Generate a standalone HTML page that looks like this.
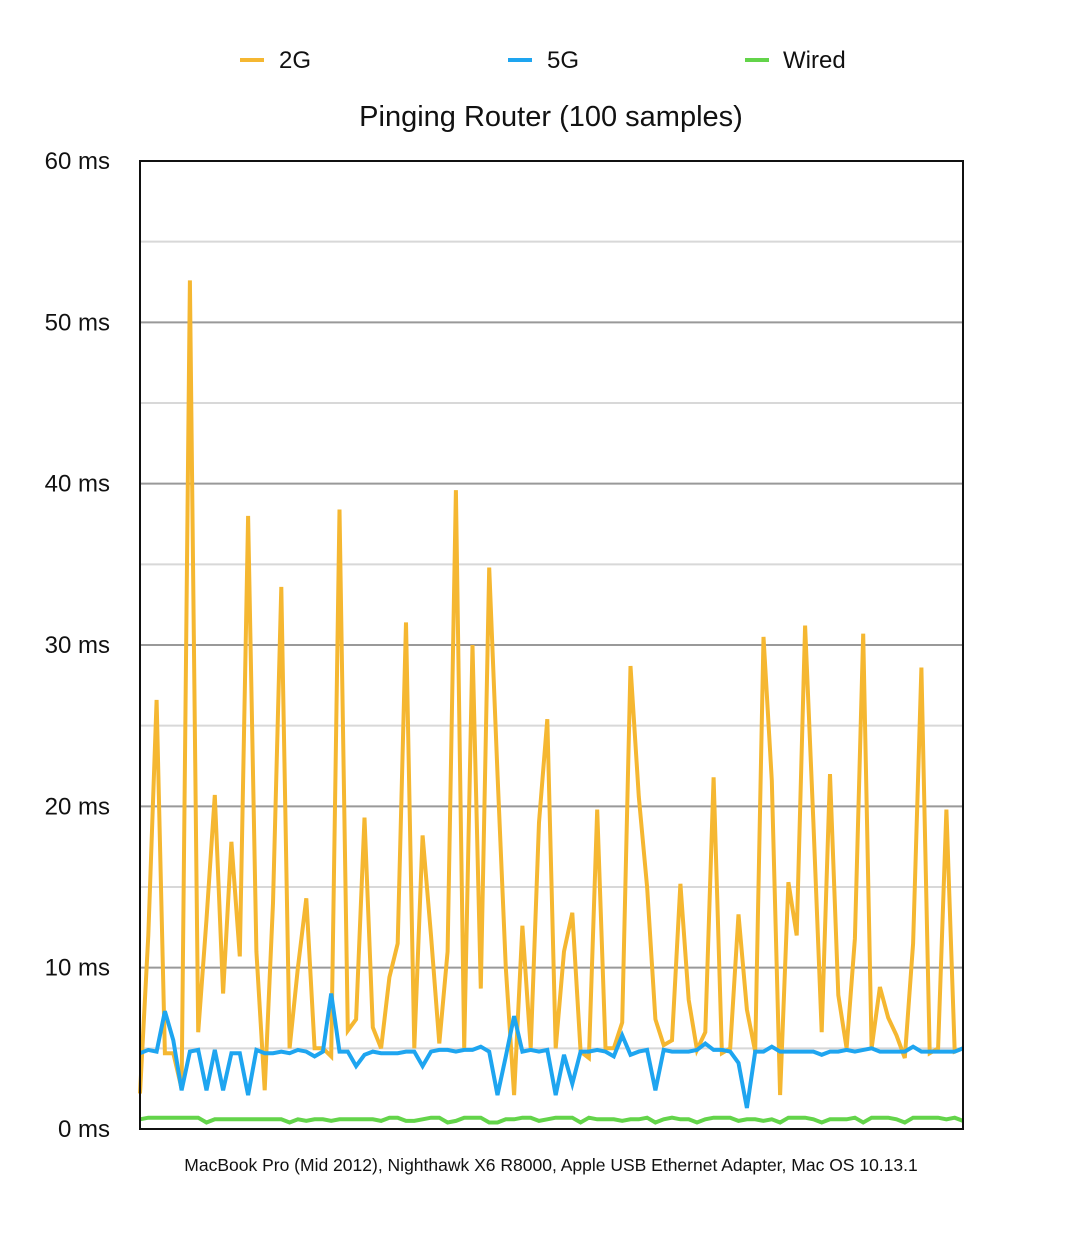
<!DOCTYPE html>
<html><head><meta charset="utf-8"><style>
body{margin:0;background:#fff;}
svg{display:block;font-family:"Liberation Sans",sans-serif;}
</style></head><body>
<svg id="chart" width="1076" height="1248" viewBox="0 0 1076 1248">
<g>
 <g><line x1="240" y1="60" x2="264" y2="60" stroke="#F5B731" stroke-width="4"/><text x="279" y="68" font-size="24" fill="#111">2G</text></g>
 <g><line x1="508" y1="60" x2="532" y2="60" stroke="#1EA5F0" stroke-width="4"/><text x="547" y="68" font-size="24" fill="#111">5G</text></g>
 <g><line x1="745" y1="60" x2="769" y2="60" stroke="#63D44A" stroke-width="4"/><text x="783" y="68" font-size="24" fill="#111">Wired</text></g>
</g>
<text x="551" y="126" font-size="29" text-anchor="middle" fill="#111">Pinging Router (100 samples)</text>
<g id="grid"></g>
<g id="ylabels"></g>
<g id="series"></g>
<rect x="140" y="161" width="823" height="968" fill="none" stroke="#111" stroke-width="2"/>
<text x="551" y="1171" font-size="17.5" text-anchor="middle" fill="#111">MacBook Pro (Mid 2012), Nighthawk X6 R8000, Apple USB Ethernet Adapter, Mac OS 10.13.1</text>
</svg>
<script>
const yTicks=[0,10,20,30,40,50,60];
const yTickLabels=["0 ms","10 ms","20 ms","30 ms","40 ms","50 ms","60 ms"];
const minorTicks=[5,15,25,35,45,55];
const series2G=[2.2,12,26.6,4.7,4.7,2.5,52.6,6.0,13,20.7,8.4,17.8,10.7,38,11,2.4,14,33.6,5,10,14.3,5,5,4.5,38.4,6.1,6.8,19.3,6.3,5,9.4,11.5,31.4,5,18.2,12,5.3,11,39.6,5,30,8.7,34.8,22,10,2.1,12.6,5,19,25.4,5,11,13.4,4.8,4.4,19.8,5,5,6.6,28.7,20.6,15,6.8,5.2,5.5,15.2,8,4.9,6,21.8,4.7,5,13.3,7.4,4.8,30.5,21.6,2.1,15.3,12,31.2,19,6,22,8.3,5,11.8,30.7,5,8.8,6.9,5.8,4.4,11.5,28.6,4.7,5,19.8,4.8,5];
const series5G=[4.7,4.9,4.8,7.3,5.5,2.4,4.8,4.9,2.4,4.9,2.4,4.7,4.7,2.1,4.9,4.7,4.7,4.8,4.7,4.9,4.8,4.5,4.8,8.4,4.8,4.8,3.9,4.6,4.8,4.7,4.7,4.7,4.8,4.8,3.9,4.8,4.9,4.9,4.8,4.9,4.9,5.1,4.8,2.1,4.5,7.0,4.8,4.9,4.8,4.9,2.1,4.6,2.8,4.8,4.8,4.9,4.8,4.5,5.8,4.6,4.8,4.9,2.4,4.9,4.8,4.8,4.8,4.9,5.3,4.9,4.9,4.8,4.1,1.3,4.8,4.8,5.1,4.8,4.8,4.8,4.8,4.8,4.6,4.8,4.8,4.9,4.8,4.9,5.0,4.8,4.8,4.8,4.8,5.1,4.8,4.8,4.8,4.8,4.8,5.0];
const seriesWired=[0.6,0.7,0.7,0.7,0.7,0.7,0.7,0.7,0.4,0.6,0.6,0.6,0.6,0.6,0.6,0.6,0.6,0.6,0.4,0.6,0.5,0.6,0.6,0.5,0.6,0.6,0.6,0.6,0.6,0.5,0.7,0.7,0.5,0.5,0.6,0.7,0.7,0.4,0.5,0.7,0.7,0.7,0.4,0.4,0.6,0.6,0.7,0.7,0.5,0.6,0.7,0.7,0.7,0.4,0.7,0.6,0.6,0.6,0.5,0.6,0.6,0.7,0.4,0.6,0.7,0.6,0.6,0.4,0.6,0.7,0.7,0.7,0.5,0.6,0.6,0.5,0.6,0.4,0.7,0.7,0.7,0.6,0.4,0.6,0.6,0.6,0.7,0.4,0.7,0.7,0.7,0.6,0.4,0.7,0.7,0.7,0.7,0.6,0.7,0.5];
const X0=140,X1=963,Y0=1129,Y1=161,YMAX=60;
const NS="http://www.w3.org/2000/svg";
function xs(i,n){return X0+i*(X1-X0)/(n-1);}
function ys(v){return Y0-v*(Y0-Y1)/YMAX;}
const grid=document.getElementById('grid');
minorTicks.forEach(t=>{const l=document.createElementNS(NS,'line');


l.setAttribute('x1',X0);l.setAttribute('x2',X1);l.setAttribute('y1',ys(t));l.setAttribute('y2',ys(t));l.setAttribute('stroke','#d8d8d8');l.setAttribute('stroke-width','2');grid.appendChild(l);});
yTicks.forEach((t,i)=>{if(t>0&&t<YMAX){const l=document.createElementNS(NS,'line');


l.setAttribute('x1',X0);l.setAttribute('x2',X1);l.setAttribute('y1',ys(t));l.setAttribute('y2',ys(t));l.setAttribute('stroke','#999');l.setAttribute('stroke-width','2');grid.appendChild(l);}
const tx=document.createElementNS(NS,'text');


tx.setAttribute('x',110);tx.setAttribute('y',ys(t)+8);tx.setAttribute('text-anchor','end');tx.setAttribute('font-size','24');tx.setAttribute('fill','#111');tx.textContent=yTickLabels[i];document.getElementById('ylabels').appendChild(tx);});
function draw(data,color,name){const p=document.createElementNS(NS,'polyline');


p.setAttribute('points',data.map((v,i)=>xs(i,data.length).toFixed(1)+','+ys(v).toFixed(1)).join(' '));
p.setAttribute('fill','none');p.setAttribute('stroke',color);p.setAttribute('stroke-width','4');p.setAttribute('stroke-linejoin','miter');
document.getElementById('series').appendChild(p);}
draw(seriesWired,'#63D44A','series-wired');
draw(series2G,'#F5B731','series-2g');
draw(series5G,'#1EA5F0','series-5g');
</script>
</body></html>
